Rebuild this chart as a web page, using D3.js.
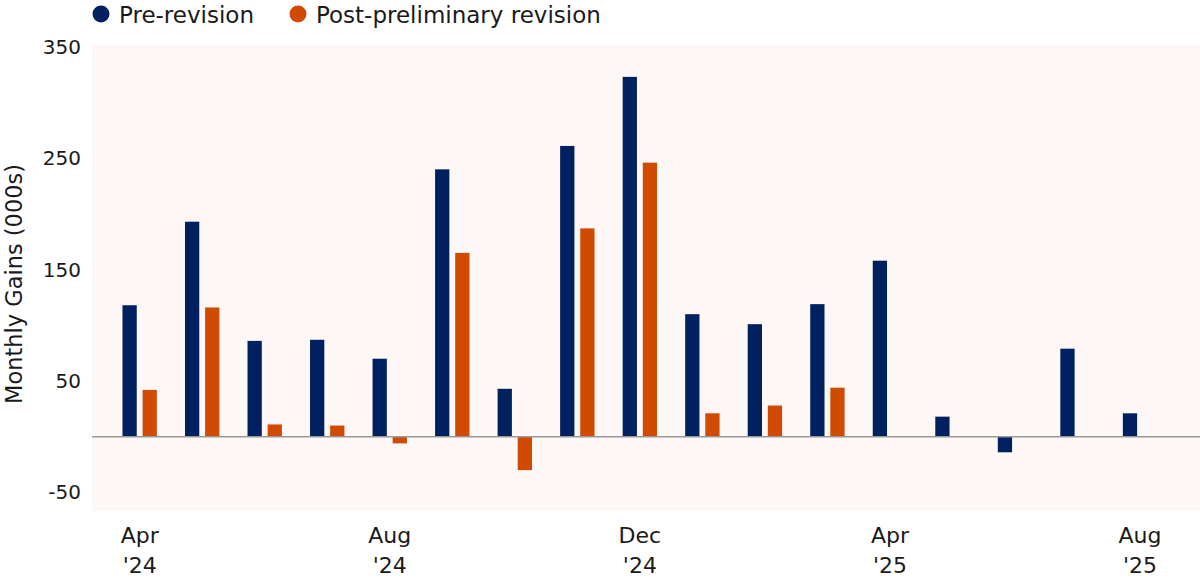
<!DOCTYPE html>
<html>
<head>
<meta charset="utf-8">
<script src="https://cdn.jsdelivr.net/npm/d3@7"></script>
<style>
  body { margin: 0; background: #fff; }
  svg text { font-family: "DejaVu Sans", "Open Sans", sans-serif; fill: #1a1a1a; }
</style>
</head>
<body>
<div id="chart"></div>
<script>
const months = ["2024-04", "2024-05", "2024-06", "2024-07", "2024-08", "2024-09", "2024-10", "2024-11",
  "2024-12", "2025-01", "2025-02", "2025-03", "2025-04", "2025-05", "2025-06", "2025-07", "2025-08"];
const preRevision = [118, 193, 86, 87, 70, 240, 43, 261, 323, 110, 101, 119, 158, 18, -14, 79, 21];
const postRevision = [42, 116, 11, 10, -6, 165, -30, 187, 246, 21, 28, 44, null, null, null, null, null];
const tickMonths = ["2024-04", "2024-08", "2024-12", "2025-04", "2025-08"];
const tickLabels = [["Apr", "'24"], ["Aug", "'24"], ["Dec", "'24"], ["Apr", "'25"], ["Aug", "'25"]];
const yTicks = [-50, 50, 150, 250, 350];
const seriesNames = ["Pre-revision", "Post-preliminary revision"];

const width = 1200, height = 580;
const colors = { pre: "#002060", post: "#D04A02" };

const svg = d3.select("#chart").append("svg")
  .attr("width", width)
  .attr("height", height);

// plot background
const plot = { left: 92, top: 45, right: 1200, bottom: 511 };
svg.append("rect")
  .attr("x", plot.left)
  .attr("y", plot.top)
  .attr("width", plot.right - plot.left)
  .attr("height", plot.bottom - plot.top)
  .attr("fill", "#FDF7F6");

const y = d3.scaleLinear().domain([0, 350]).range([436.7, 46.8]);

const x0 = d3.scaleBand()
  .domain(months)
  .range([108.4, 1171.3])
  .paddingInner(0.45)
  .paddingOuter(0.225);

const x1 = d3.scaleBand()
  .domain(["pre", "post"])
  .range([0, x0.bandwidth()])
  .paddingInner(0.29);

// y axis (labels only), plain hyphen for negatives
const yAxis = svg.append("g")
  .attr("transform", "translate(81,0)")
  .call(d3.axisLeft(y).tickValues(yTicks).tickSize(0).tickPadding(0).tickFormat(d => String(d)));
yAxis.select(".domain").remove();
yAxis.selectAll("text")
  .attr("font-size", 20)
  .attr("fill", "#1a1a1a");

svg.append("text")
  .attr("transform", "translate(22,284) rotate(-90)")
  .attr("text-anchor", "middle")
  .attr("font-size", 22.5)
  .text("Monthly Gains (000s)");

// bars
const rows = months.map((m, i) => ({ month: m, pre: preRevision[i], post: postRevision[i] }));
const groups = svg.append("g").selectAll("g")
  .data(rows)
  .join("g")
  .attr("transform", d => `translate(${x0(d.month)},0)`);

groups.selectAll("rect")
  .data(d => ["pre", "post"].filter(k => d[k] != null).map(k => ({ key: k, value: d[k] })))
  .join("rect")
  .attr("x", d => x1(d.key))
  .attr("width", x1.bandwidth())
  .attr("y", d => y(Math.max(0, d.value)))
  .attr("height", d => Math.abs(y(d.value) - y(0)))
  .attr("fill", d => colors[d.key]);

// zero line
svg.append("line")
  .attr("x1", plot.left)
  .attr("x2", plot.right)
  .attr("y1", y(0))
  .attr("y2", y(0))
  .attr("stroke", "#9a9a9a")
  .attr("stroke-width", 1.5);

// x axis labels, two lines each
const xAxis = svg.append("g")
  .attr("transform", "translate(0,520)")
  .call(d3.axisBottom(x0).tickValues(tickMonths).tickSize(0).tickFormat(""));
xAxis.select(".domain").remove();
xAxis.selectAll(".tick text")
  .attr("font-size", 22)
  .attr("fill", "#1a1a1a")
  .attr("dy", 0)
  .attr("y", 0)
  .each(function(d) {
    const lines = tickLabels[tickMonths.indexOf(d)];
    const t = d3.select(this);
    lines.forEach((s, i) => {
      t.append("tspan").attr("x", 0).attr("y", 23 + i * 30).text(s);
    });
  });

// legend
const legend = svg.append("g");
const legendX = [101, 298];
seriesNames.forEach((name, i) => {
  const g = legend.append("g").attr("transform", `translate(${legendX[i]},14)`);
  g.append("circle").attr("r", 8.5).attr("fill", i === 0 ? colors.pre : colors.post);
  g.append("text").attr("x", 18).attr("y", 8.5).attr("font-size", 23).text(name);
});
</script>
</body>
</html>
